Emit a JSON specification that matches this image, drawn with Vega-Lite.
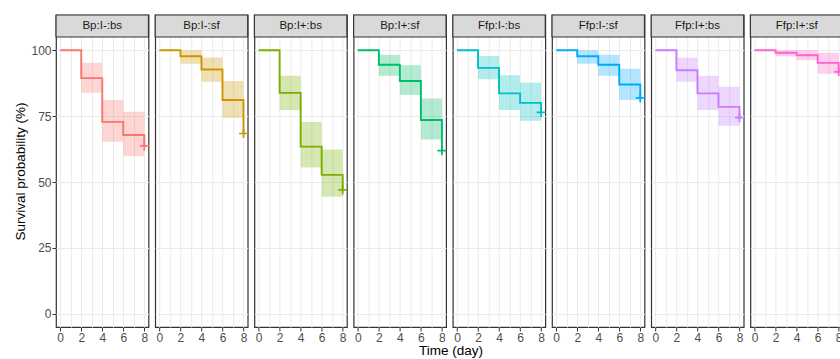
{
  "$schema": "https://vega.github.io/schema/vega-lite/v6.json",
  "padding": {"left": 13, "top": 13, "right": 0, "bottom": 0},
  "background": "white",
  "data": {"values": [
    {"group": "Bp:I-:bs", "time": 0, "surv": 100, "lower": 100, "upper": 100, "censor": false},
    {"group": "Bp:I-:bs", "time": 2, "surv": 89.4, "lower": 83.9, "upper": 95.2, "censor": false},
    {"group": "Bp:I-:bs", "time": 4, "surv": 72.8, "lower": 65.3, "upper": 81.1, "censor": false},
    {"group": "Bp:I-:bs", "time": 6, "surv": 67.8, "lower": 59.8, "upper": 76.6, "censor": false},
    {"group": "Bp:I-:bs", "time": 8, "surv": 63.7, "lower": 59.8, "upper": 76.6, "censor": true},
    {"group": "Bp:I-:sf", "time": 0, "surv": 100, "lower": 100, "upper": 100, "censor": false},
    {"group": "Bp:I-:sf", "time": 2, "surv": 97.7, "lower": 94.9, "upper": 100, "censor": false},
    {"group": "Bp:I-:sf", "time": 4, "surv": 92.7, "lower": 88.0, "upper": 97.2, "censor": false},
    {"group": "Bp:I-:sf", "time": 6, "surv": 81.1, "lower": 74.4, "upper": 88.3, "censor": false},
    {"group": "Bp:I-:sf", "time": 8, "surv": 68.4, "lower": 74.4, "upper": 88.3, "censor": true},
    {"group": "Bp:I+:bs", "time": 0, "surv": 100, "lower": 100, "upper": 100, "censor": false},
    {"group": "Bp:I+:bs", "time": 2, "surv": 83.8, "lower": 77.3, "upper": 90.3, "censor": false},
    {"group": "Bp:I+:bs", "time": 4, "surv": 63.4, "lower": 55.5, "upper": 72.8, "censor": false},
    {"group": "Bp:I+:bs", "time": 6, "surv": 52.7, "lower": 44.4, "upper": 62.3, "censor": false},
    {"group": "Bp:I+:bs", "time": 8, "surv": 47.0, "lower": 44.4, "upper": 62.3, "censor": true},
    {"group": "Bp:I+:sf", "time": 0, "surv": 100, "lower": 100, "upper": 100, "censor": false},
    {"group": "Bp:I+:sf", "time": 2, "surv": 94.5, "lower": 90.3, "upper": 98.3, "censor": false},
    {"group": "Bp:I+:sf", "time": 4, "surv": 88.3, "lower": 83.0, "upper": 94.3, "censor": false},
    {"group": "Bp:I+:sf", "time": 6, "surv": 73.5, "lower": 66.1, "upper": 81.7, "censor": false},
    {"group": "Bp:I+:sf", "time": 8, "surv": 61.9, "lower": 66.1, "upper": 81.7, "censor": true},
    {"group": "Ffp:I-:bs", "time": 0, "surv": 100, "lower": 100, "upper": 100, "censor": false},
    {"group": "Ffp:I-:bs", "time": 2, "surv": 93.3, "lower": 89.0, "upper": 97.8, "censor": false},
    {"group": "Ffp:I-:bs", "time": 4, "surv": 83.6, "lower": 77.3, "upper": 90.5, "censor": false},
    {"group": "Ffp:I-:bs", "time": 6, "surv": 80.0, "lower": 73.2, "upper": 87.6, "censor": false},
    {"group": "Ffp:I-:bs", "time": 8, "surv": 76.4, "lower": 73.2, "upper": 87.6, "censor": true},
    {"group": "Ffp:I-:sf", "time": 0, "surv": 100, "lower": 100, "upper": 100, "censor": false},
    {"group": "Ffp:I-:sf", "time": 2, "surv": 97.7, "lower": 94.9, "upper": 100, "censor": false},
    {"group": "Ffp:I-:sf", "time": 4, "surv": 94.5, "lower": 90.3, "upper": 98.3, "censor": false},
    {"group": "Ffp:I-:sf", "time": 6, "surv": 87.0, "lower": 81.1, "upper": 93.0, "censor": false},
    {"group": "Ffp:I-:sf", "time": 8, "surv": 81.9, "lower": 81.1, "upper": 93.0, "censor": true},
    {"group": "Ffp:I+:bs", "time": 0, "surv": 100, "lower": 100, "upper": 100, "censor": false},
    {"group": "Ffp:I+:bs", "time": 2, "surv": 92.4, "lower": 88.0, "upper": 97.1, "censor": false},
    {"group": "Ffp:I+:bs", "time": 4, "surv": 83.6, "lower": 77.3, "upper": 90.3, "censor": false},
    {"group": "Ffp:I+:bs", "time": 6, "surv": 78.5, "lower": 71.3, "upper": 86.1, "censor": false},
    {"group": "Ffp:I+:bs", "time": 8, "surv": 74.4, "lower": 71.3, "upper": 86.1, "censor": true},
    {"group": "Ffp:I+:sf", "time": 0, "surv": 100, "lower": 100, "upper": 100, "censor": false},
    {"group": "Ffp:I+:sf", "time": 2, "surv": 99.0, "lower": 97.7, "upper": 100, "censor": false},
    {"group": "Ffp:I+:sf", "time": 4, "surv": 98.1, "lower": 96.2, "upper": 100, "censor": false},
    {"group": "Ffp:I+:sf", "time": 6, "surv": 95.2, "lower": 91.1, "upper": 99.0, "censor": false},
    {"group": "Ffp:I+:sf", "time": 8, "surv": 91.8, "lower": 91.1, "upper": 99.0, "censor": true}
  ]},
  "facet": {
    "column": {
      "field": "group", "type": "nominal",
      "sort": ["Bp:I-:bs", "Bp:I-:sf", "Bp:I+:bs", "Bp:I+:sf", "Ffp:I-:bs", "Ffp:I-:sf", "Ffp:I+:bs", "Ffp:I+:sf"],
      "header": {"labels": false, "title": "Time (day)", "titleOrient": "bottom", "titleFont": "Liberation Sans", "titleFontSize": 13.5, "titleFontWeight": "normal", "titleColor": "#000000", "titlePadding": -9}
    }
  },
  "bounds": "flush",
  "spacing": 6.2,
  "spec": {
    "width": 92.5,
    "height": 312,
    "encoding": {
      "x": {"field": "time", "type": "quantitative", "title": null,
        "scale": {"domain": [-0.4, 8.4], "nice": false, "zero": false},
        "axis": {"values": [0, 1, 2, 3, 4, 5, 6, 7, 8],
          "labelExpr": "datum.value % 2 === 0 ? datum.label : ''",
          "tickOpacity": {"condition": {"test": "datum.value % 2 === 1", "value": 0}, "value": 1}}},
      "color": {"field": "group", "type": "nominal", "legend": null,
        "scale": {"domain": ["Bp:I-:bs", "Bp:I-:sf", "Bp:I+:bs", "Bp:I+:sf", "Ffp:I-:bs", "Ffp:I-:sf", "Ffp:I+:bs", "Ffp:I+:sf"],
          "range": ["#F8766D", "#CD9600", "#7CAE00", "#00BE67", "#00BFC4", "#00A9FF", "#C77CFF", "#FF61CC"]}}
    },
    "layer": [
      {
        "mark": {"type": "area", "interpolate": "step-after", "opacity": 0.3},
        "encoding": {
          "y": {"field": "lower", "type": "quantitative", "title": "Survival probability (%)",
            "scale": {"domain": [-5, 113.345], "nice": false, "zero": false},
            "axis": {"values": [0, 12.5, 25, 37.5, 50, 62.5, 75, 87.5, 100],
              "labelExpr": "datum.value % 25 === 0 ? datum.label : ''",
              "tickOpacity": {"condition": {"test": "datum.value % 25 !== 0", "value": 0}, "value": 1}}},
          "y2": {"field": "upper"}
        }
      },
      {
        "mark": {"type": "line", "interpolate": "step-after", "strokeWidth": 1.9},
        "encoding": {
          "y": {"field": "surv", "type": "quantitative", "title": "Survival probability (%)"}
        }
      },
      {
        "transform": [{"filter": "datum.censor"}],
        "mark": {"type": "point", "shape": "M-1,0H1M0,-1V1", "size": 81, "strokeWidth": 1.7, "filled": false, "opacity": 1},
        "encoding": {
          "y": {"field": "surv", "type": "quantitative", "title": "Survival probability (%)"}
        }
      },
      {
        "transform": [{"filter": "datum.time === 0"}],
        "mark": {"type": "rect", "fill": "#D9D9D9", "stroke": "#333333", "strokeWidth": 1.2},
        "encoding": {
          "x": {"datum": -0.4},
          "x2": {"datum": 8.4},
          "y": {"datum": 105, "type": "quantitative", "title": "Survival probability (%)"},
          "y2": {"datum": 113.345},
          "color": {"value": "#D9D9D9"}
        }
      },
      {
        "transform": [{"filter": "datum.time === 0"}],
        "mark": {"type": "text", "font": "Liberation Sans", "fontSize": 11.5, "baseline": "middle", "align": "center"},
        "encoding": {
          "x": {"datum": 4},
          "y": {"datum": 109.17, "type": "quantitative", "title": "Survival probability (%)"},
          "text": {"field": "group"},
          "color": {"value": "#1A1A1A"}
        }
      }
    ]
  },
  "config": {
    "view": {"stroke": "#333333", "strokeWidth": 1.2},
    "axis": {
      "domain": false,
      "grid": true,
      "gridColor": "#EBEBEB",
      "gridWidth": 1,
      "tickColor": "#333333",
      "tickSize": 4,
      "tickWidth": 1,
      "labelColor": "#4D4D4D",
      "labelFont": "Liberation Sans",
      "labelFontSize": 12,
      "labelPadding": 1,
      "titleFont": "Liberation Sans",
      "titleFontSize": 13.5,
      "titleFontWeight": "normal",
      "titleColor": "#000000",
      "titlePadding": 3
    }
  }
}
